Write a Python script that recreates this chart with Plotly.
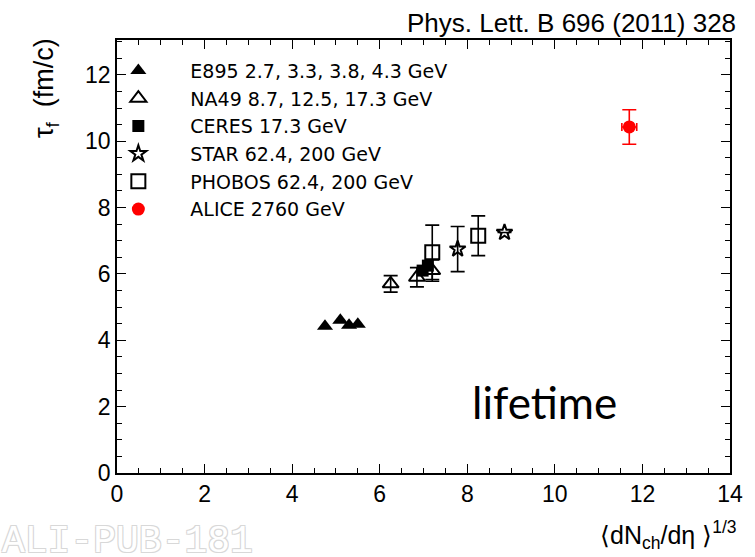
import plotly.graph_objects as go

e895_x = [4.75, 5.1, 5.3, 5.5]
e895_y = [4.42, 4.6, 4.45, 4.48]
na49_x = [6.25, 6.85, 7.2]
na49_y = [5.7, 5.9, 6.1]
na49_err = [0.25, 0.29, 0.32]
ceres_x = [6.98, 7.1]
ceres_y = [6.1, 6.25]
star_x = [7.78, 8.85]
star_y = [6.75, 7.25]
star_err = [0.68, 0.0]
phobos_x = [7.2, 8.25]
phobos_y = [6.65, 7.15]
phobos_err = [0.82, 0.6]
alice_x = [11.7]
alice_y = [10.43]
alice_err_y = [0.52]
alice_err_x = [0.17]

names = ["E895 2.7, 3.3, 3.8, 4.3 GeV", "NA49 8.7, 12.5, 17.3 GeV", "CERES 17.3 GeV",
         "STAR 62.4, 200 GeV", "PHOBOS 62.4, 200 GeV", "ALICE 2760 GeV"]

fig = go.Figure()
eb = dict(type="data", thickness=1.6, width=7, color="black")

fig.add_trace(go.Scatter(x=e895_x, y=e895_y, mode="markers", name=names[0], legendgroup="a",
                         marker=dict(symbol="triangle-up", size=14, color="black")))
fig.add_trace(go.Scatter(x=na49_x, y=na49_y, mode="markers", name=names[1], legendgroup="b",
                         error_y=dict(array=na49_err, **eb),
                         marker=dict(symbol="triangle-up-open", size=14, color="black",
                                     line=dict(width=2, color="black"))))
fig.add_trace(go.Scatter(x=ceres_x, y=ceres_y, mode="markers", name=names[2], legendgroup="c",
                         marker=dict(symbol="square", size=12, color="black")))
fig.add_trace(go.Scatter(x=star_x, y=star_y, mode="markers", name=names[3], legendgroup="d",
                         error_y=dict(array=star_err, **eb),
                         marker=dict(symbol="star-open", size=12, color="black",
                                     line=dict(width=2, color="black"))))
fig.add_trace(go.Scatter(x=phobos_x, y=phobos_y, mode="markers", name=names[4], legendgroup="e",
                         error_y=dict(array=phobos_err, **eb),
                         marker=dict(symbol="square-open", size=14, color="black",
                                     line=dict(width=2, color="black"))))
fig.add_trace(go.Scatter(x=alice_x, y=alice_y, mode="markers", name=names[5], legendgroup="f",
                         error_y=dict(array=alice_err_y, type="data", thickness=1.6, width=7, color="red"),
                         error_x=dict(array=alice_err_x, type="data", thickness=1.6, width=4, color="red"),
                         marker=dict(symbol="circle", size=13, color="red")))

axis_common = dict(showline=True, linecolor="black", linewidth=1.5, mirror="allticks",
                   ticks="inside", ticklen=9, tickwidth=1.2, tickcolor="black",
                   showgrid=False, zeroline=False,
                   tickfont=dict(family="Liberation Sans", size=23, color="black"),
                   minor=dict(ticks="inside", ticklen=5, dtick=0.5, tickcolor="black", tickwidth=1.2, showgrid=False))

fig.update_xaxes(range=[0, 14], dtick=2, **axis_common)
fig.update_yaxes(range=[0, 13.05], dtick=2, **axis_common)

fig.update_layout(
    width=755, height=557,
    margin=dict(l=117, r=18, t=40, b=84),
    plot_bgcolor="white", paper_bgcolor="white",
    legend=dict(x=-0.05, y=0.973, xanchor="left", yanchor="top", bgcolor="rgba(0,0,0,0)",
                font=dict(family="DejaVu Sans", size=19, color="black"),
                tracegroupgap=0, itemwidth=94),
    showlegend=True,
    annotations=[
        dict(text="Phys. Lett. B 696 (2011) 328", xref="paper", yref="paper", x=1.0, y=1.0,
             xanchor="right", yanchor="bottom", xshift=8, yshift=0, showarrow=False,
             font=dict(family="Liberation Sans", size=26, color="black")),
        dict(text="lifetime", xref="x", yref="y", x=9.76, y=2.14, xanchor="center", yanchor="middle",
             showarrow=False, font=dict(family="Lato", size=44, color="black")),
        dict(text="⟨dN<sub>ch</sub>/dη ⟩<sup>1/3</sup>", xref="paper", yref="paper", x=1.0, y=0,
             xanchor="right", yanchor="top", xshift=8, yshift=-42, showarrow=False,
             font=dict(family="Liberation Sans", size=25, color="black")),
        dict(text="τ<sub>f</sub>&nbsp; (fm/c)", xref="paper", yref="paper", x=0, y=0.889, xanchor="center",
             yanchor="middle", xshift=-71, textangle=-90, showarrow=False,
             font=dict(family="Liberation Sans", size=27, color="black")),
        dict(text="ALI-PUB-181", xref="paper", yref="paper", x=0, y=0, xanchor="left", yanchor="middle",
             xshift=-117, yshift=-68, showarrow=False,
             font=dict(family="Liberation Mono", size=38, color="white",
                       shadow="-1px -1px 0 #d8d8d8, 1px -1px 0 #d8d8d8, -1px 1px 0 #d8d8d8, 1px 1px 0 #d8d8d8")),
    ],
)

fig.write_html("out.html")
